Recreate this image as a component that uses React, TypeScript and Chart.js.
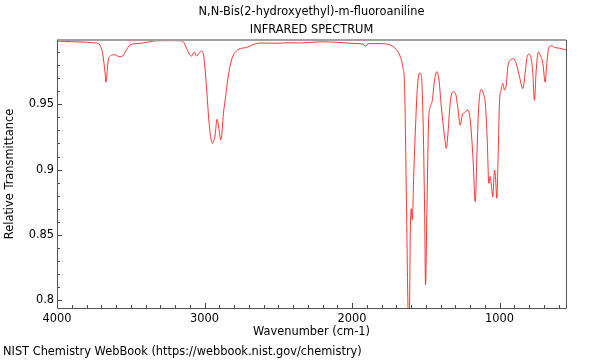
import { useEffect, useRef } from "react";
import { Chart, registerables } from "chart.js";

Chart.register(...registerables);

const TITLE = "N,N-Bis(2-hydroxyethyl)-m-fluoroaniline";
const SUBTITLE = "INFRARED SPECTRUM";
const X_LABEL = "Wavenumber (cm-1)";
const Y_LABEL = "Relative Transmittance";
const FOOTER = "NIST Chemistry WebBook (https://webbook.nist.gov/chemistry)";

const X_MIN = 550;
const X_MAX = 4000;
const Y_MIN = 0.7939;
const Y_MAX = 0.9993;
const X_LABELED = [4000, 3000, 2000, 1000];
const Y_LABELED = [0.95, 0.9, 0.85, 0.8];

const WAVENUMBERS = [
  4000, 3950, 3900, 3850, 3800, 3760, 3731, 3709, 3691, 3675, 3668, 3660, 3653, 3640, 3630, 3607,
  3590, 3573, 3555, 3533, 3506, 3460, 3416, 3370, 3325, 3250, 3200, 3167, 3145, 3122, 3104, 3088,
  3070, 3054, 3039, 3020, 3005, 2987, 2969, 2955, 2946, 2938, 2930, 2915, 2901, 2890, 2882, 2874,
  2856, 2840, 2817, 2783, 2716, 2626, 2500, 2440, 2355, 2218, 2100, 1994, 1926, 1906, 1893, 1840,
  1764, 1710, 1677, 1657, 1644, 1632, 1621, 1615, 1610, 1605, 1599, 1592, 1581, 1569, 1558, 1542,
  1531, 1520, 1508, 1502, 1493, 1481, 1470, 1456, 1441, 1425, 1411, 1395, 1373, 1361, 1350, 1334,
  1316, 1298, 1283, 1267, 1253, 1238, 1215, 1199, 1181, 1165, 1154, 1143, 1125, 1109, 1096, 1084,
  1073, 1064, 1055, 1046, 1035, 1028, 1019, 1010, 1001, 990, 978, 967, 955, 944, 926, 906,
  888, 865, 843, 827, 816, 802, 786, 775, 764, 752, 738, 725, 707, 691, 680, 667,
  651, 628, 594, 560, 550,
];

const TRANSMITTANCE = [
  0.9985, 0.9982, 0.998, 0.9978, 0.9976, 0.9972, 0.997, 0.9954, 0.989, 0.975, 0.967, 0.975, 0.984, 0.987, 0.9877, 0.988,
  0.987, 0.9865, 0.987, 0.991, 0.9954, 0.9965, 0.997, 0.998, 0.9987, 0.9988, 0.9988, 0.9987, 0.998, 0.993, 0.9885, 0.987,
  0.99, 0.987, 0.989, 0.991, 0.9865, 0.9635, 0.9355, 0.923, 0.92, 0.922, 0.925, 0.9385, 0.93, 0.9227, 0.928, 0.9405,
  0.957, 0.971, 0.984, 0.991, 0.9936, 0.997, 0.9968, 0.9972, 0.997, 0.9979, 0.9975, 0.9967, 0.9962, 0.9946, 0.9965, 0.9966,
  0.9962, 0.9931, 0.9877, 0.979, 0.9635, 0.879, 0.795, 0.78, 0.8, 0.8538, 0.87, 0.8614, 0.8997, 0.9354, 0.962, 0.974,
  0.9725, 0.943, 0.8665, 0.8117, 0.8665, 0.938, 0.948, 0.953, 0.9686, 0.975, 0.9686, 0.948, 0.925, 0.9163, 0.928, 0.952,
  0.9596, 0.958, 0.947, 0.934, 0.9418, 0.9436, 0.9456, 0.938, 0.91, 0.8754, 0.91, 0.9456, 0.9615, 0.958, 0.9495, 0.9227,
  0.8895, 0.8946, 0.887, 0.879, 0.8997, 0.8946, 0.878, 0.91, 0.9508, 0.961, 0.966, 0.961, 0.9648, 0.9788, 0.984, 0.985,
  0.9814, 0.971, 0.962, 0.9737, 0.985, 0.9885, 0.985, 0.9737, 0.953, 0.976, 0.99, 0.9877, 0.9814, 0.967, 0.9814, 0.993,
  0.9949, 0.9936, 0.993, 0.992, 0.9918,
];

const FONT = '"DejaVu Sans", sans-serif';
const FONT_SIZE = 11.4;

const framePlugin = {
  id: "nistFrame",
  afterDraw(chart: any) {
    const { ctx, chartArea } = chart;
    const { left, right, top, bottom } = chartArea;
    const xs = chart.scales.x;
    const ys = chart.scales.y;
    ctx.save();
    // inward ticks
    ctx.strokeStyle = "#444";
    ctx.lineWidth = 1;
    for (let v = 600; v <= X_MAX; v += 100) {
      const px = Math.round(xs.getPixelForValue(v)) + 0.5;
      const len = v % 1000 === 0 ? 5 : 3;
      ctx.beginPath();
      ctx.moveTo(px, bottom);
      ctx.lineTo(px, bottom - len);
      ctx.stroke();
    }
    for (let i = 80; i <= 99; i++) {
      const v = i / 100;
      const py = Math.round(ys.getPixelForValue(v)) + 0.5;
      const len = i % 5 === 0 ? 5 : 3;
      ctx.beginPath();
      ctx.moveTo(left, py);
      ctx.lineTo(left + len, py);
      ctx.stroke();
    }
    // frame
    ctx.strokeStyle = "#a0a0a0";
    ctx.lineWidth = 2;
    ctx.beginPath();
    ctx.moveTo(left, top);
    ctx.lineTo(right, top);
    ctx.stroke();
    ctx.strokeStyle = "#555";
    ctx.lineWidth = 1;
    ctx.beginPath();
    ctx.moveTo(Math.round(left) + 0.5, top);
    ctx.lineTo(Math.round(left) + 0.5, Math.round(bottom) + 0.5);
    ctx.lineTo(Math.round(right) + 0.5, Math.round(bottom) + 0.5);
    ctx.lineTo(Math.round(right) + 0.5, top);
    ctx.stroke();
    // texts
    const cx = (left + right) / 2;
    ctx.fillStyle = "#000";
    ctx.font = `${FONT_SIZE}px ${FONT}`;
    ctx.textAlign = "center";
    ctx.textBaseline = "middle";
    ctx.fillText(TITLE, cx, 12);
    ctx.fillText(SUBTITLE, cx, 30);
    ctx.fillText(X_LABEL, cx, 332);
    ctx.textAlign = "left";
    ctx.fillText(FOOTER, 3, 352);
    ctx.translate(10, (top + bottom) / 2);
    ctx.rotate(-Math.PI / 2);
    ctx.textAlign = "center";
    ctx.fillText(Y_LABEL, 0, 0);
    ctx.restore();
  },
};

export default function App() {
  const ref = useRef<HTMLCanvasElement | null>(null);
  useEffect(() => {
    if (!ref.current) return;
    const points = WAVENUMBERS.map((w, i) => ({ x: w, y: TRANSMITTANCE[i] }));
    const chart = new Chart(ref.current, {
      type: "line",
      data: {
        datasets: [
          {
            data: points,
            borderColor: "rgba(255,30,30,0.9)",
            borderWidth: 1,
            pointRadius: 0,
            fill: false,
            cubicInterpolationMode: "monotone",
          },
        ],
      },
      plugins: [framePlugin],
      options: {
        animation: false,
        responsive: false,
        devicePixelRatio: 1,
        layout: { padding: { left: 0, top: 40, right: 34, bottom: 0 } },
        plugins: { legend: { display: false }, tooltip: { enabled: false } },
        scales: {
          x: {
            type: "linear",
            reverse: true,
            min: X_MIN,
            max: X_MAX,
            grid: { display: false, drawTicks: false },
            border: { display: false },
            afterFit: (s: any) => {
              s.height = 52;
            },
            afterBuildTicks: (s: any) => {
              s.ticks = X_LABELED.map((v) => ({ value: v }));
            },
            ticks: {
              autoSkip: false,
              maxRotation: 0,
              padding: 4,
              color: "#000",
              font: { family: FONT, size: FONT_SIZE },
              callback: (v: any) => String(Math.round(Number(v))),
            },
          },
          y: {
            type: "linear",
            min: Y_MIN,
            max: Y_MAX,
            grid: { display: false, drawTicks: false },
            border: { display: false },
            afterFit: (s: any) => {
              s.width = 57;
            },
            afterBuildTicks: (s: any) => {
              s.ticks = Y_LABELED.map((v) => ({ value: v }));
            },
            ticks: {
              autoSkip: false,
              padding: 3,
              color: "#000",
              font: { family: FONT, size: FONT_SIZE },
              callback: (v: any) => String(Math.round(Number(v) * 100) / 100),
            },
          },
        },
      },
    } as any);
    return () => chart.destroy();
  }, []);
  return (
    <div style={{ position: "fixed", left: 0, top: 0, width: 600, height: 360, background: "#fff" }}>
      <canvas ref={ref} width={600} height={360} style={{ width: 600, height: 360 }} />
    </div>
  );
}
